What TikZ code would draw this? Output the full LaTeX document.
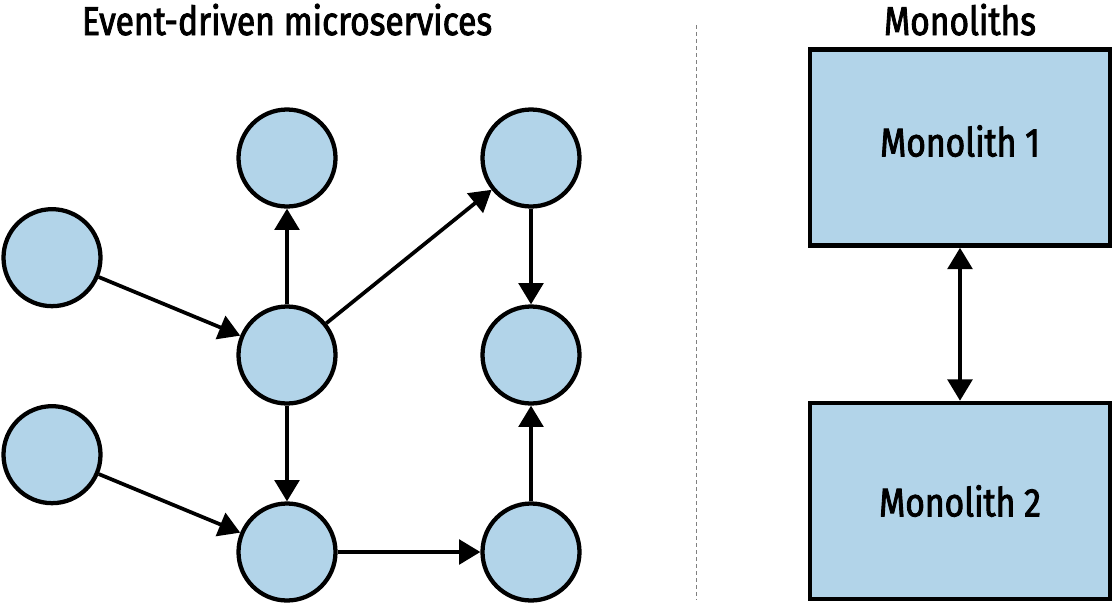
\documentclass[tikz,border=0pt]{standalone}
\usepackage{fontspec}
\setmainfont{Fira Sans}[FakeStretch=0.84,FakeBold=2.2]
\usetikzlibrary{positioning, arrows.meta}
\definecolor{svcblue}{RGB}{178,212,233}
\begin{document}
\begin{tikzpicture}[x=0.75pt,y=-0.75pt,node distance=147.75pt,on grid,
		svc/.style={circle,draw,line width=3.2pt,fill=svcblue,minimum size=72.75pt,inner sep=0pt},
		mono/.style={rectangle,draw,line width=3.4pt,fill=svcblue,minimum width=225pt,minimum height=147pt,inner sep=0pt,font=\fontsize{30}{36}\selectfont},
		flow/.style={line width=2.8pt,-{Triangle[length=16pt,width=18.5pt]}},
		title/.style={anchor=base,font=\fontsize{30}{36}\selectfont}]
				\useasboundingbox (0,0) rectangle (1113,604);
				\node (evtitle) [title] at (287,35) {Event-driven microservices};
				\node (motitle) [title] at (960,35) {Monoliths};
				\draw [gray,line width=0.75pt,dash pattern=on 3pt off 2.25pt] (696,25) -- (696,600);
				% services
				\node (hub) [svc] at (287,355) {};
				\node (up) [svc,above=of hub] {};
				\node (down) [svc,below=of hub] {};
				\node (srcA) [svc,above left=73pt and 176.25pt of hub] {};
				\node (srcB) [svc,below=of srcA] {};
				\node (outT) [svc,right=183pt of up] {};
				\node (outM) [svc,below=of outT] {};
				\node (outB) [svc,below=of outM] {};
				\draw [flow](srcA) -- (hub);
				\draw [flow](srcB) -- (down);
				\draw [flow](hub) -- (up);
				\draw [flow](hub) -- (outT);
				\draw [flow](hub) -- (down);
				\draw [flow](outT) -- (outM);
				\draw [flow](down) -- (outB);
				\draw [flow](outB) -- (outM);
				% monoliths
				\node (mono1) [mono,text depth=10pt] at (960,147.5) {Monolith 1};
				\node (mono2) [mono] at (960,501) {Monolith 2};
				\draw [flow,{Triangle[length=16pt,width=18.5pt]}-{Triangle[length=16pt,width=18.5pt]}](mono1) -- (mono2);
\end{tikzpicture}
\end{document}
